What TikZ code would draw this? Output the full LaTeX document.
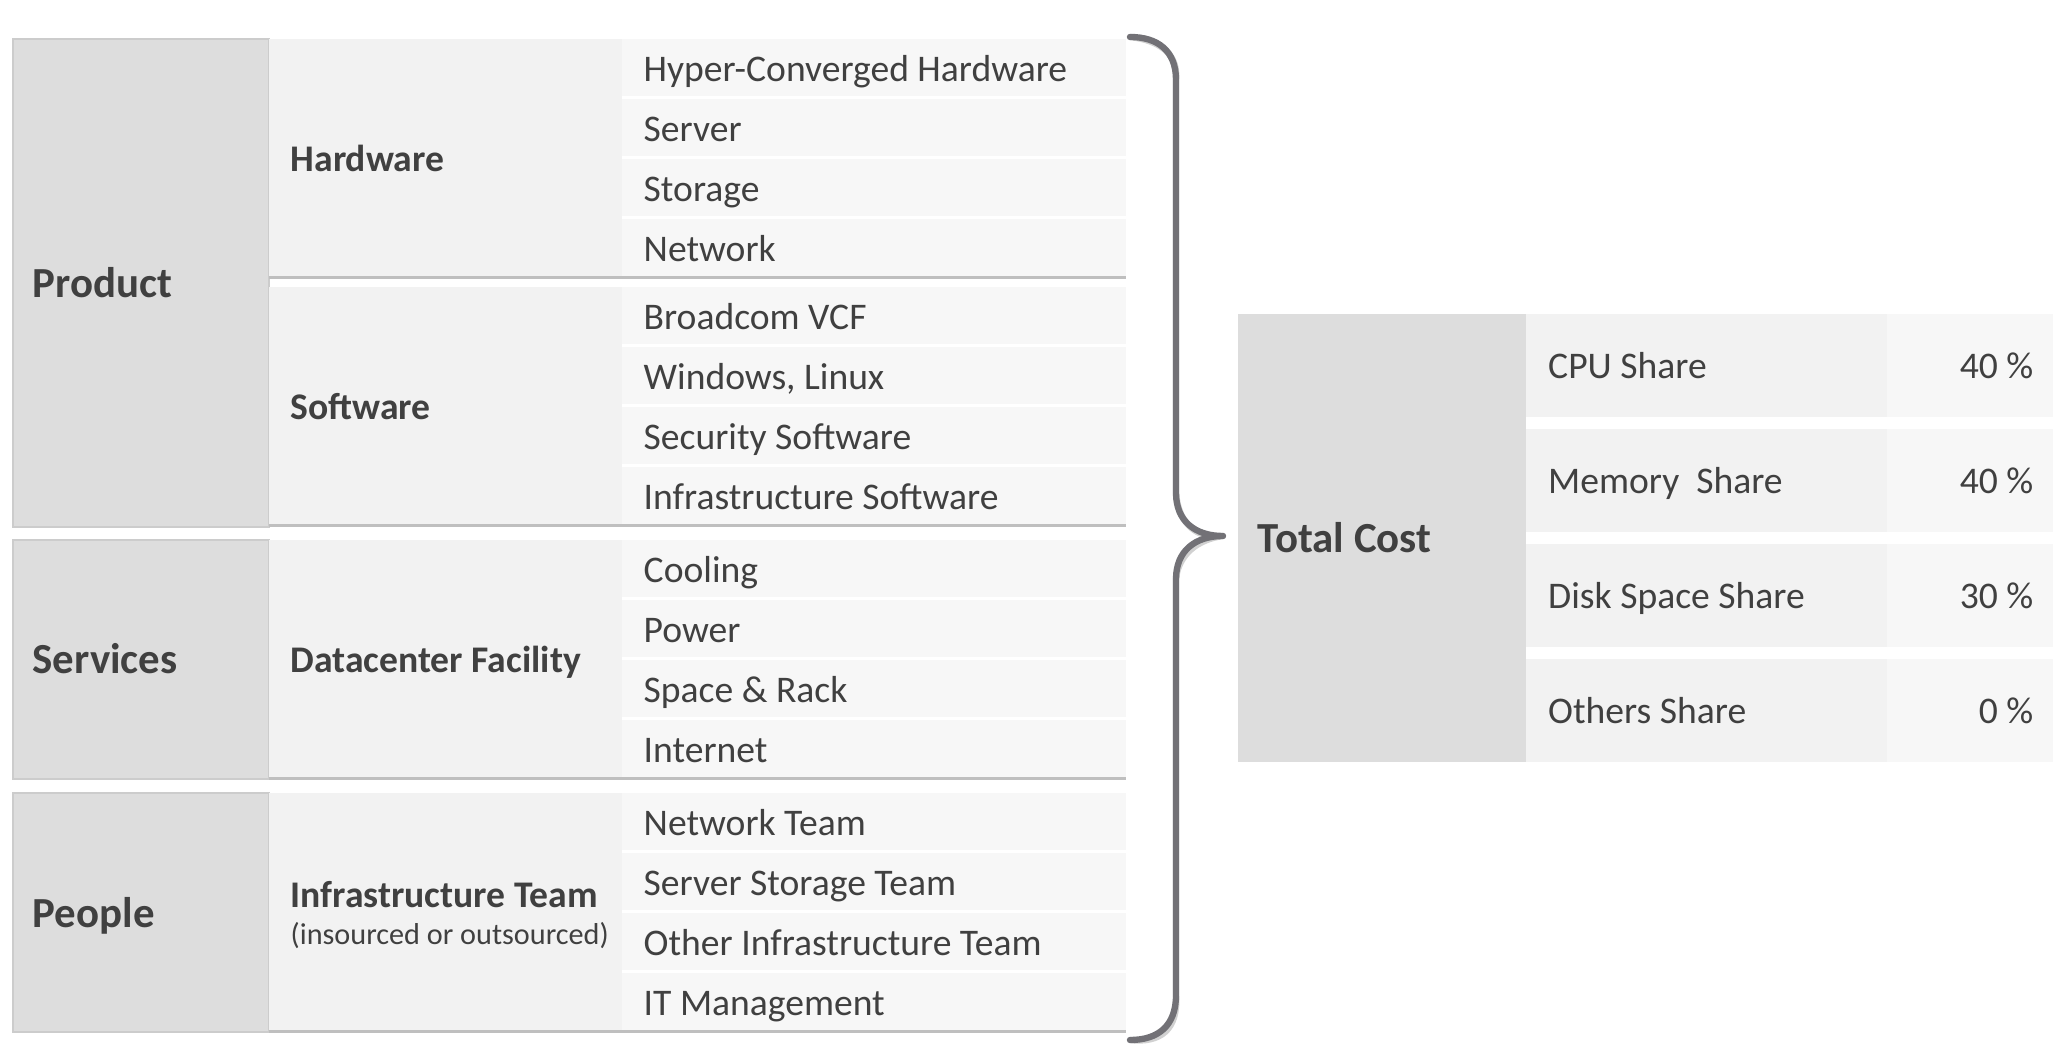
\documentclass[tikz,border=0pt]{standalone}
\usepackage{fontspec}
\setmainfont{Carlito}
\usepackage{xcolor}
\usepackage{tikz}
\definecolor{TCDark}{HTML}{DDDDDD}
\definecolor{TCEdge}{HTML}{CCCCCC}
\definecolor{TCMid}{HTML}{F2F2F2}
\definecolor{TCLight}{HTML}{F7F7F7}
\definecolor{TCLine}{HTML}{BFBFBF}
\definecolor{TCText}{HTML}{404040}
\definecolor{TCBrace}{HTML}{727176}
\begin{document}
\begin{tikzpicture}[x=1cm,y=1cm,
  cattext/.style={anchor=west,inner sep=0pt,text=TCText,text height=7.8pt,text depth=0pt,font=\fontsize{12.2}{14.5}\selectfont\bfseries},
  grptext/.style={anchor=west,inner sep=0pt,text=TCText,text height=6.9pt,text depth=0pt,font=\fontsize{10.7}{12.8}\selectfont\bfseries},
  notetext/.style={anchor=west,inner sep=0pt,text=TCText,text height=5.5pt,text depth=0pt,font=\fontsize{8.6}{10.2}\selectfont},
  itemtext/.style={anchor=west,inner sep=0pt,text=TCText,text height=6.9pt,text depth=0pt,font=\fontsize{10.7}{12.8}\selectfont},
  valtext/.style={itemtext,anchor=east}]
\path[use as bounding box] (0,0) rectangle (20.65,10.51);
% left columns
\filldraw[fill=TCDark,draw=TCEdge,line width=.4pt] (0.13,10.12) rectangle (2.69,5.24);
\filldraw[fill=TCDark,draw=TCEdge,line width=.4pt] (0.13,5.11) rectangle (2.69,2.72);
\filldraw[fill=TCDark,draw=TCEdge,line width=.4pt] (0.13,2.58) rectangle (2.69,0.19);
\fill[TCMid] (2.69,10.12) rectangle (6.22,7.75);
\fill[TCMid] (2.69,7.64) rectangle (6.22,5.27);
\fill[TCMid] (2.69,5.11) rectangle (6.22,2.74);
\fill[TCMid] (2.69,2.58) rectangle (6.22,0.21);
% hardware rows
\fill[TCLight] (6.22,10.12) rectangle (11.26,9.55);
\fill[TCLight] (6.22,9.52) rectangle (11.26,8.95);
\fill[TCLight] (6.22,8.92) rectangle (11.26,8.35);
\fill[TCLight] (6.22,8.32) rectangle (11.26,7.75);
% software rows
\fill[TCLight] (6.22,7.64) rectangle (11.26,7.07);
\fill[TCLight] (6.22,7.04) rectangle (11.26,6.47);
\fill[TCLight] (6.22,6.44) rectangle (11.26,5.87);
\fill[TCLight] (6.22,5.84) rectangle (11.26,5.27);
% services rows
\fill[TCLight] (6.22,5.11) rectangle (11.26,4.54);
\fill[TCLight] (6.22,4.51) rectangle (11.26,3.94);
\fill[TCLight] (6.22,3.91) rectangle (11.26,3.34);
\fill[TCLight] (6.22,3.31) rectangle (11.26,2.74);
% people rows
\fill[TCLight] (6.22,2.58) rectangle (11.26,2.01);
\fill[TCLight] (6.22,1.98) rectangle (11.26,1.41);
\fill[TCLight] (6.22,1.38) rectangle (11.26,0.81);
\fill[TCLight] (6.22,0.78) rectangle (11.26,0.21);
% separators
\draw[TCLine,line width=.85pt] (2.69,7.735) -- (11.26,7.735);
\draw[TCLine,line width=.85pt] (2.69,5.255) -- (11.26,5.255);
\draw[TCLine,line width=.85pt] (2.69,2.725) -- (11.26,2.725);
\draw[TCLine,line width=.85pt] (2.69,0.195) -- (11.26,0.195);
% labels
\node[cattext] (product) at (0.32,7.67) {Product};
\node[cattext] (services) at (0.32,3.91) {Services};
\node[cattext] (people) at (0.32,1.37) {People};
\node[grptext] (hardware) at (2.90,8.92) {Hardware};
\node[grptext] (software) at (2.90,6.44) {Software};
\node[grptext] (facility) at (2.90,3.91) {Datacenter Facility};
\node[grptext] (infra) at (2.90,1.56) {Infrastructure Team};
\node[notetext] (infranote) at (2.90,1.16) {(insourced or outsourced)};
\node[itemtext] (hci) at (6.43,9.82) {Hyper-Converged Hardware};
\node[itemtext] (server) at (6.43,9.22) {Server};
\node[itemtext] (storage) at (6.43,8.62) {Storage};
\node[itemtext] (network) at (6.43,8.02) {Network};
\node[itemtext] (vcf) at (6.43,7.335) {Broadcom VCF};
\node[itemtext] (os) at (6.43,6.735) {Windows, Linux};
\node[itemtext] (secsw) at (6.43,6.135) {Security Software};
\node[itemtext] (infrasw) at (6.43,5.535) {Infrastructure Software};
\node[itemtext] (cooling) at (6.43,4.81) {Cooling};
\node[itemtext] (power) at (6.43,4.21) {Power};
\node[itemtext] (rack) at (6.43,3.61) {Space \& Rack};
\node[itemtext] (internet) at (6.43,3.01) {Internet};
\node[itemtext] (netteam) at (6.43,2.28) {Network Team};
\node[itemtext] (stoteam) at (6.43,1.68) {Server Storage Team};
\node[itemtext] (othteam) at (6.43,1.08) {Other Infrastructure Team};
\node[itemtext] (itmgmt) at (6.43,0.48) {IT Management};
% brace
\coordinate (brTop) at (11.30,10.14);
\coordinate (brUp) at (11.76,9.71);
\coordinate (brMidA) at (11.76,5.58);
\coordinate (brTip) at (12.23,5.15);
\coordinate (brMidB) at (11.76,4.72);
\coordinate (brLow) at (11.76,0.56);
\coordinate (brBot) at (11.30,0.11);
\draw[black,opacity=.18,line width=1.8pt,line cap=round,line join=round,shift={(0.025,-0.035)}] (brTop) .. controls (11.58,10.14) and (11.76,10.00) .. (brUp) -- (brMidA) .. controls (11.76,5.30) and (11.95,5.15) .. (brTip) .. controls (11.95,5.15) and (11.76,5.00) .. (brMidB) -- (brLow) .. controls (11.76,0.25) and (11.58,0.11) .. (brBot);
\draw[TCBrace,line width=1.8pt,line cap=round,line join=round] (brTop) .. controls (11.58,10.14) and (11.76,10.00) .. (brUp) -- (brMidA) .. controls (11.76,5.30) and (11.95,5.15) .. (brTip) .. controls (11.95,5.15) and (11.76,5.00) .. (brMidB) -- (brLow) .. controls (11.76,0.25) and (11.58,0.11) .. (brBot);
% total cost table
\fill[TCDark] (12.38,7.37) rectangle (15.26,2.89);
\fill[TCMid] (15.26,7.37) rectangle (18.87,6.34);
\fill[TCLight] (18.87,7.37) rectangle (20.53,6.34);
\fill[TCMid] (15.26,6.22) rectangle (18.87,5.19);
\fill[TCLight] (18.87,6.22) rectangle (20.53,5.19);
\fill[TCMid] (15.26,5.07) rectangle (18.87,4.04);
\fill[TCLight] (18.87,5.07) rectangle (20.53,4.04);
\fill[TCMid] (15.26,3.92) rectangle (18.87,2.89);
\fill[TCLight] (18.87,3.92) rectangle (20.53,2.89);
\node[cattext] (total) at (12.57,5.12) {Total Cost};
\node[itemtext] (cpu) at (15.475,6.845) {CPU Share};
\node[itemtext] (mem) at (15.475,5.695) {Memory\ \ Share};
\node[itemtext] (disk) at (15.475,4.545) {Disk Space Share};
\node[itemtext] (other) at (15.475,3.395) {Others Share};
\node[valtext] (cpuval) at (20.34,6.845) {40 \%};
\node[valtext] (memval) at (20.34,5.695) {40 \%};
\node[valtext] (diskval) at (20.34,4.545) {30 \%};
\node[valtext] (otherval) at (20.34,3.395) {0 \%};
\end{tikzpicture}
\end{document}
